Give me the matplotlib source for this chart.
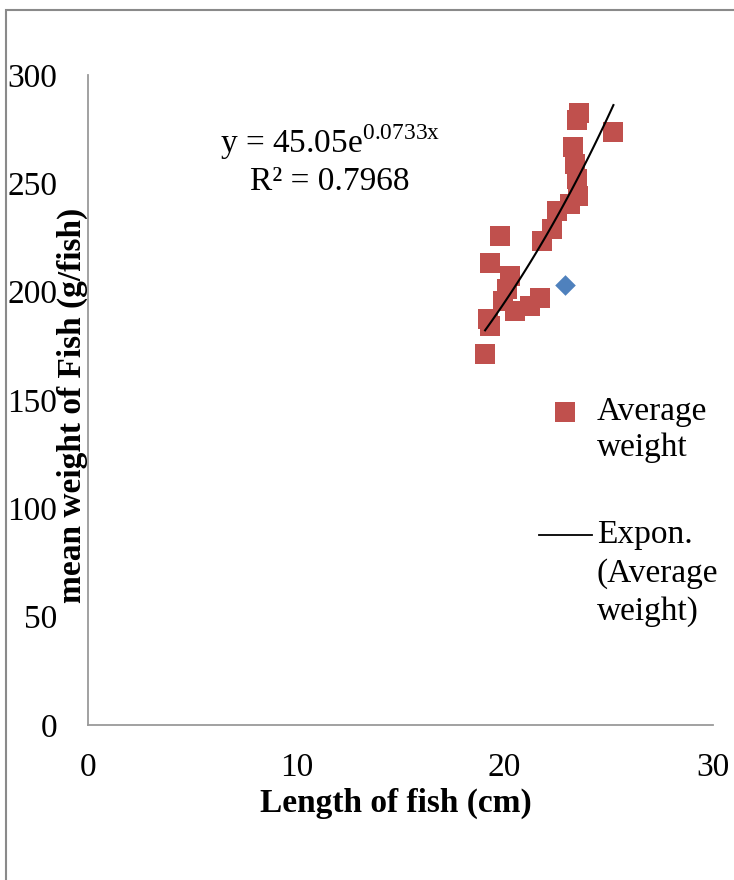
import matplotlib
matplotlib.use("Agg")
import matplotlib.pyplot as plt
import numpy as np
from matplotlib.patches import Rectangle
from matplotlib.lines import Line2D

plt.rcParams['font.family'] = ['Liberation Serif', 'DejaVu Serif']
plt.rcParams['mathtext.fontset'] = 'custom'
plt.rcParams['mathtext.rm'] = 'Liberation Serif'

# Data: average weight series (length cm, weight g/fish)
length_cm = [23.57, 23.49, 25.22, 23.30, 23.38, 23.46, 23.54, 23.14, 22.50, 22.26,
             21.78, 19.78, 19.30, 20.26, 20.10, 19.94, 20.50, 21.70, 21.22, 19.22,
             19.30, 19.06]
avg_weight = [282.5, 279.4, 273.6, 266.6, 258.9, 252.0, 244.2, 240.4, 237.3, 228.8,
              223.4, 225.7, 213.4, 207.3, 201.1, 195.7, 191.1, 197.3, 193.4, 187.2,
              184.1, 171.1]
# extra single point (blue diamond)
extra_x = [22.90]
extra_y = [203.0]
# exponential trendline parameters
fit_a = 45.05
fit_b = 0.0733
r2 = 0.7968

x_ticks = [0, 10, 20, 30]
y_ticks = [0, 50, 100, 150, 200, 250, 300]

FS = 24
W, H = 734, 880
fig = plt.figure(figsize=(W/100, H/100), dpi=100)
ax = fig.add_axes([88/W, 1-725/H, (713-88)/W, (725-75)/H])

ax.scatter(extra_x, extra_y, marker='D', s=110, color='#4F81BD', zorder=3, linewidths=0)
ax.scatter(length_cm, avg_weight, marker='s', s=200, color='#C0504D', zorder=2,
           linewidths=0)
xs = np.linspace(min(length_cm), max(length_cm), 100)
ax.plot(xs, fit_a*np.exp(fit_b*xs), color='black', lw=1.5, zorder=4)

ax.set_xlim(0, 30)
ax.set_ylim(0, 300)
ax.set_xticks(x_ticks)
ax.set_yticks(y_ticks)
ax.tick_params(length=0, labelsize=FS)
ax.tick_params(axis='y', pad=22)
ax.tick_params(axis='x', pad=20)
for s in ['top', 'right']:
    ax.spines[s].set_visible(False)
for s in ['left', 'bottom']:
    ax.spines[s].set_color('#9a9a9a')
    ax.spines[s].set_linewidth(1.3)

ax.text(11.6, 269, r'y = 45.05e$^{\mathregular{0.0733x}}$', fontsize=FS, ha='center', va='center')
ax.text(11.6, 250.5, 'R² = 0.7968', fontsize=FS, ha='center', va='center')

# legend drawn manually (Excel-style, handle aligned with first line)
fig.add_artist(Line2D([565/W], [1-412/H], marker='s', color='#C0504D', ls='none',
                      markersize=14, markeredgewidth=0, transform=fig.transFigure))
fig.text(597/W, 1-412/H, 'Average', fontsize=FS, ha='left', va='center')
fig.text(597/W, 1-448/H, 'weight', fontsize=FS, ha='left', va='center')
fig.add_artist(Line2D([539/W, 592/W], [1-535/H, 1-535/H], color='black', lw=1.3,
                      transform=fig.transFigure))
fig.text(597/W, 1-535/H, 'Expon.', fontsize=FS, ha='left', va='center')
fig.text(597/W, 1-574/H, '(Average', fontsize=FS, ha='left', va='center')
fig.text(597/W, 1-612/H, 'weight)', fontsize=FS, ha='left', va='center')

fig.text(396/W, 1-803/H, 'Length of fish (cm)', fontsize=FS, fontweight='bold',
         ha='center', va='center')
fig.text(72/W, 1-405/H, 'mean weight of Fish (g/fish)', fontsize=FS, fontweight='bold',
         ha='center', va='center', rotation=90)

fig.patches.append(Rectangle((6/W, -0.1), 1.2, 1-10/H+0.1, transform=fig.transFigure,
                             fill=False, edgecolor='#8a8a8a', lw=1.5))

fig.savefig('out.png', dpi=100)
